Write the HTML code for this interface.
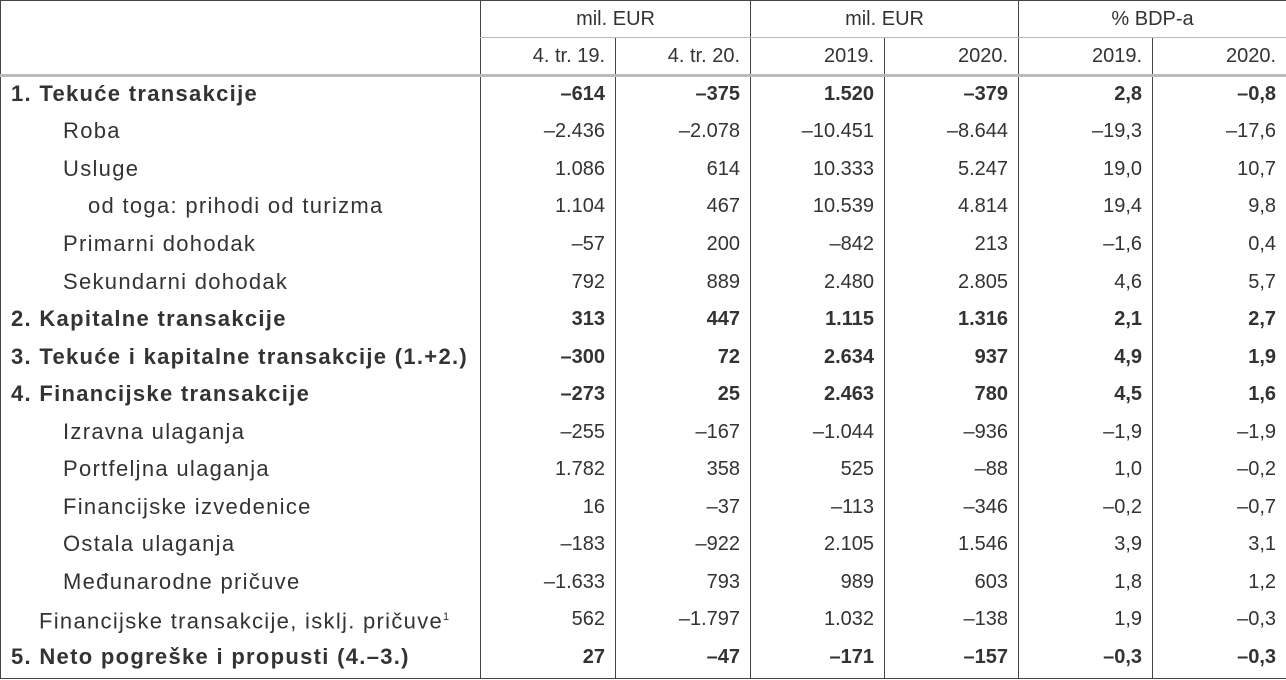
<!DOCTYPE html>
<html><head><meta charset="utf-8"><style>
html,body{margin:0;padding:0;background:#fff;width:1286px;height:680px;overflow:hidden}
table{border-collapse:collapse;table-layout:fixed;font-family:"Liberation Sans",Arial,sans-serif;font-size:20px;color:#333;position:absolute;left:0;top:0;width:1286px;border:1px solid #444}
td{padding:0 10px 4px 0;text-align:right;white-space:nowrap;border-left:1px solid #444;height:33.55px;line-height:20px}
td:first-child{text-align:left;border-left:none;padding-left:10px;font-size:22px;letter-spacing:1.3px}
tr.h1 td{height:36px;text-align:center;padding:0;border-bottom:1px solid #bbb}
tr.h1 td:first-child{border-bottom:none}
tr.h2 td{height:36px;padding-bottom:0;border-bottom:3px solid #bbb}
tr.b td{font-weight:bold}
.i1{padding-left:62px!important}.i2{padding-left:87px!important}.i3{padding-left:38px!important}
sup{font-size:11px}
</style></head><body>
<table>
<colgroup><col style="width:480px"><col style="width:135px"><col style="width:135px"><col style="width:134px"><col style="width:134px"><col style="width:134px"><col style="width:134px"></colgroup>
<tr class="h1"><td></td><td colspan="2">mil. EUR</td><td colspan="2">mil. EUR</td><td colspan="2">% BDP-a</td></tr>
<tr class="h2"><td></td><td>4. tr. 19.</td><td>4. tr. 20.</td><td>2019.</td><td>2020.</td><td>2019.</td><td>2020.</td></tr>
<tr class="b"><td>1. Tekuće transakcije</td><td>–614</td><td>–375</td><td>1.520</td><td>–379</td><td>2,8</td><td>–0,8</td></tr>
<tr><td class="i1">Roba</td><td>–2.436</td><td>–2.078</td><td>–10.451</td><td>–8.644</td><td>–19,3</td><td>–17,6</td></tr>
<tr><td class="i1">Usluge</td><td>1.086</td><td>614</td><td>10.333</td><td>5.247</td><td>19,0</td><td>10,7</td></tr>
<tr><td class="i2">od toga: prihodi od turizma</td><td>1.104</td><td>467</td><td>10.539</td><td>4.814</td><td>19,4</td><td>9,8</td></tr>
<tr><td class="i1">Primarni dohodak</td><td>–57</td><td>200</td><td>–842</td><td>213</td><td>–1,6</td><td>0,4</td></tr>
<tr><td class="i1">Sekundarni dohodak</td><td>792</td><td>889</td><td>2.480</td><td>2.805</td><td>4,6</td><td>5,7</td></tr>
<tr class="b"><td>2. Kapitalne transakcije</td><td>313</td><td>447</td><td>1.115</td><td>1.316</td><td>2,1</td><td>2,7</td></tr>
<tr class="b"><td>3. Tekuće i kapitalne transakcije (1.+2.)</td><td>–300</td><td>72</td><td>2.634</td><td>937</td><td>4,9</td><td>1,9</td></tr>
<tr class="b"><td>4. Financijske transakcije</td><td>–273</td><td>25</td><td>2.463</td><td>780</td><td>4,5</td><td>1,6</td></tr>
<tr><td class="i1">Izravna ulaganja</td><td>–255</td><td>–167</td><td>–1.044</td><td>–936</td><td>–1,9</td><td>–1,9</td></tr>
<tr><td class="i1">Portfeljna ulaganja</td><td>1.782</td><td>358</td><td>525</td><td>–88</td><td>1,0</td><td>–0,2</td></tr>
<tr><td class="i1">Financijske izvedenice</td><td>16</td><td>–37</td><td>–113</td><td>–346</td><td>–0,2</td><td>–0,7</td></tr>
<tr><td class="i1">Ostala ulaganja</td><td>–183</td><td>–922</td><td>2.105</td><td>1.546</td><td>3,9</td><td>3,1</td></tr>
<tr><td class="i1">Međunarodne pričuve</td><td>–1.633</td><td>793</td><td>989</td><td>603</td><td>1,8</td><td>1,2</td></tr>
<tr><td class="i3">Financijske transakcije, isklj. pričuve<sup>1</sup></td><td>562</td><td>–1.797</td><td>1.032</td><td>–138</td><td>1,9</td><td>–0,3</td></tr>
<tr class="b"><td>5. Neto pogreške i propusti (4.–3.)</td><td>27</td><td>–47</td><td>–171</td><td>–157</td><td>–0,3</td><td>–0,3</td></tr>
</table>
</body></html>
